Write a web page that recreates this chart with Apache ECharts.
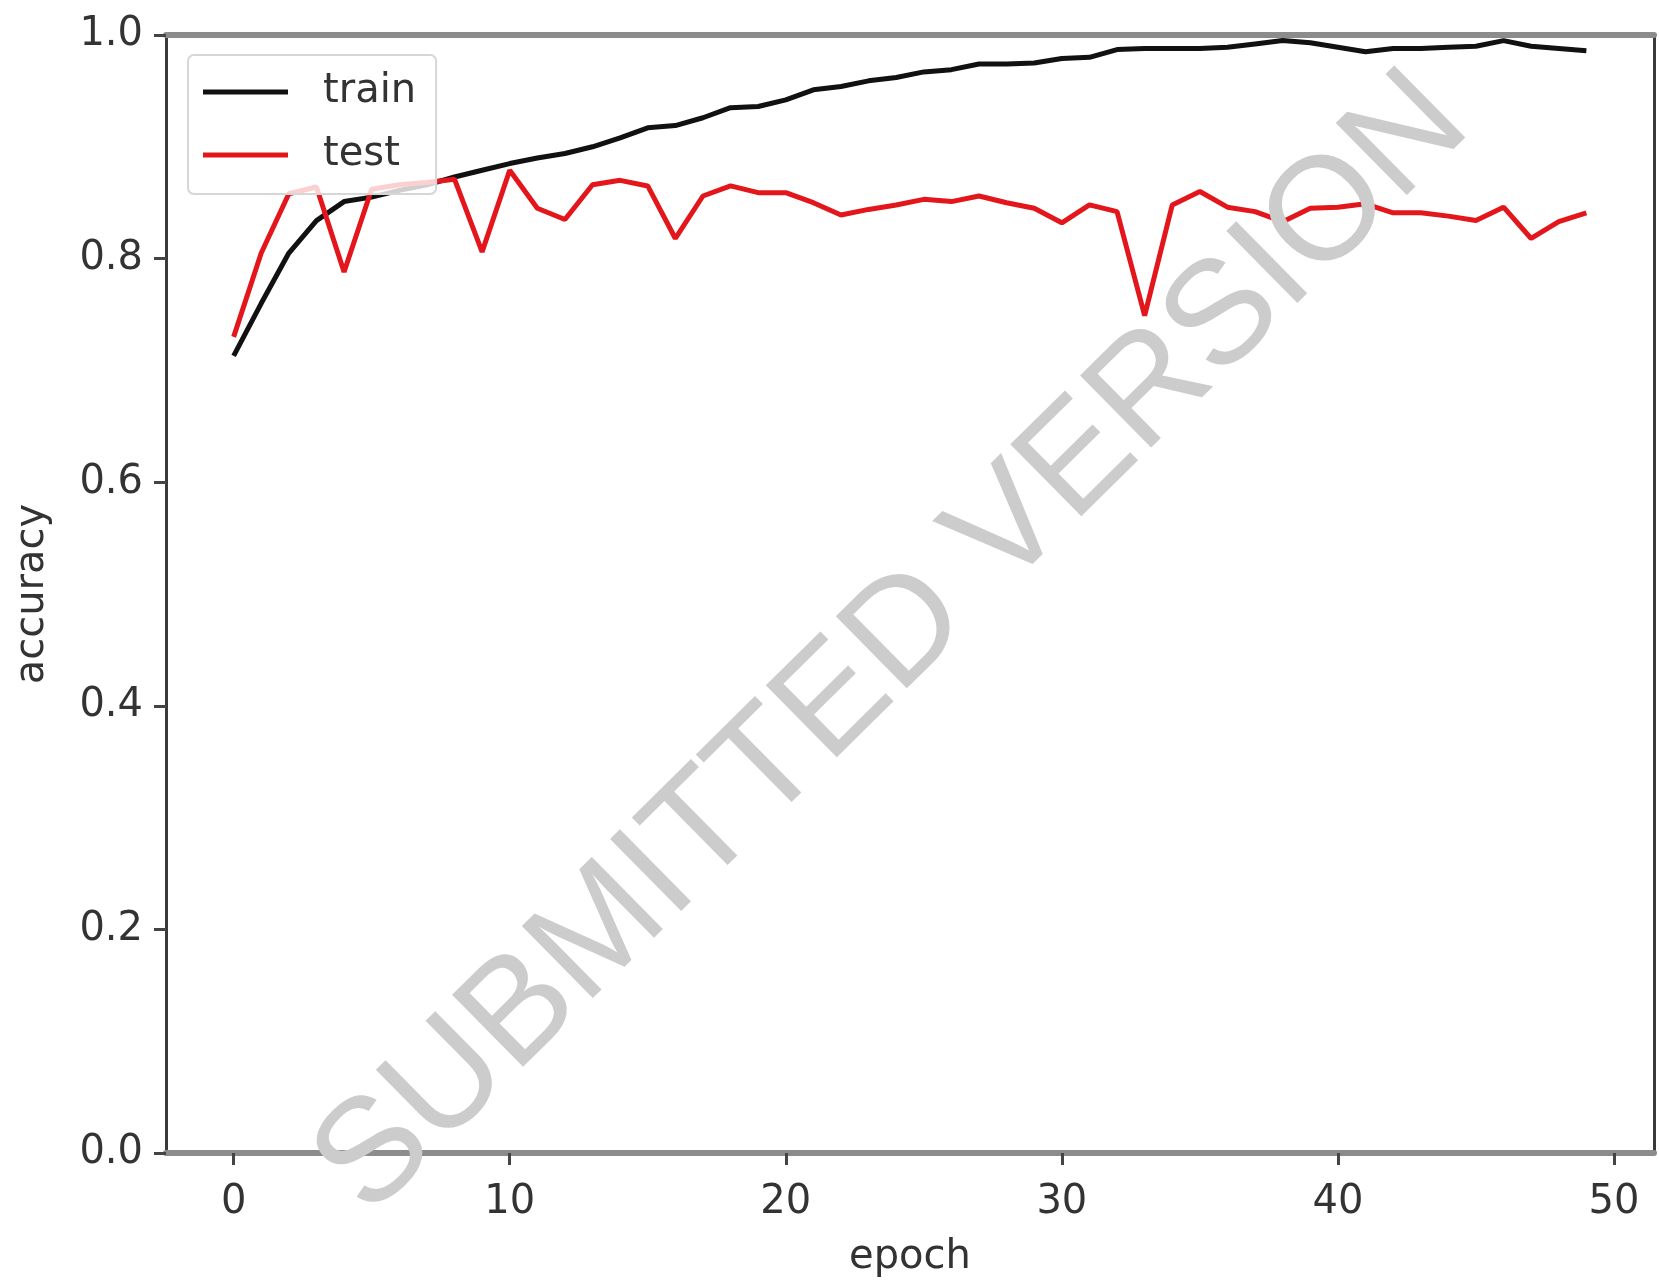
<!DOCTYPE html>
<html>
<head>
<meta charset="utf-8">
<title>accuracy</title>
<script src="https://cdn.jsdelivr.net/npm/echarts@6/dist/echarts.min.js"></script>
<style>
html,body{margin:0;padding:0;background:#fff;}
#main{width:1659px;height:1283px;}
</style>
</head>
<body>
<div id="main"></div>
<script>
// values, one per epoch (0..49)
var trainAcc = [0.713, 0.760, 0.805, 0.834, 0.851, 0.855, 0.861, 0.866, 0.873, 0.879,
                0.885, 0.890, 0.894, 0.900, 0.908, 0.917, 0.919, 0.926, 0.935, 0.936,
                0.942, 0.951, 0.954, 0.959, 0.962, 0.967, 0.969, 0.974, 0.974, 0.975,
                0.979, 0.980, 0.987, 0.988, 0.988, 0.988, 0.989, 0.992, 0.995, 0.993,
                0.989, 0.985, 0.988, 0.988, 0.989, 0.990, 0.995, 0.990, 0.988, 0.986];
var testAcc = [0.730, 0.805, 0.858, 0.864, 0.788, 0.862, 0.866, 0.868, 0.871, 0.806,
               0.879, 0.845, 0.835, 0.866, 0.870, 0.865, 0.818, 0.856, 0.865, 0.859,
               0.859, 0.850, 0.839, 0.844, 0.848, 0.853, 0.851, 0.856, 0.850, 0.845,
               0.832, 0.848, 0.842, 0.749, 0.848, 0.860, 0.846, 0.842, 0.833, 0.845,
               0.846, 0.849, 0.841, 0.841, 0.838, 0.834, 0.846, 0.818, 0.833, 0.841];
var xTicks = [0, 10, 20, 30, 40, 50];
var seriesNames = ['train', 'test'];

var font = 'DejaVu Sans';

function toPoints(arr){
    var out = [];
    for (var i = 0; i < arr.length; i++) {
        out.push([i, arr[i]]);
    }
    return out;
}

var myChart = echarts.init(document.getElementById('main'));
var option = {
    animation: false,
    backgroundColor: '#fff',
    textStyle: { fontFamily: font },
    grid: { left: 166, right: 5, top: 35, bottom: 130 },
    legend: {
        orient: 'vertical',
        left: 188,
        top: 55,
        padding: [17, 20, 19, 15],
        itemGap: 23,
        itemWidth: 85,
        itemHeight: 5,
        icon: 'rect',
        backgroundColor: 'rgba(255,255,255,0.8)',
        borderColor: '#d6d6d6',
        borderWidth: 2,
        borderRadius: 6,
        textStyle: {
            fontFamily: font,
            fontSize: 40,
            lineHeight: 40,
            color: '#333',
            padding: [0, 0, 0, 30]
        },
        data: seriesNames
    },
    xAxis: [{
        type: 'value',
        min: -2.45,
        max: 51.45,
        name: 'epoch',
        nameLocation: 'middle',
        nameGap: 85,
        nameTextStyle: { fontFamily: font, fontSize: 40, color: '#333' },
        axisLine: { onZero: false, lineStyle: { color: '#8c8c8c', width: 6 } },
        axisTick: { customValues: xTicks, length: 12, lineStyle: { color: '#444', width: 3 } },
        axisLabel: {
            customValues: xTicks,
            margin: 30,
            fontFamily: font,
            fontSize: 40,
            color: '#333',
            formatter: function(v){ return String(v); }
        },
        splitLine: { show: false }
    }, {
        type: 'value',
        position: 'top',
        min: -2.45,
        max: 51.45,
        axisLine: { onZero: false, lineStyle: { color: '#8c8c8c', width: 6 } },
        axisTick: { show: false },
        axisLabel: { show: false },
        splitLine: { show: false }
    }],
    yAxis: [{
        type: 'value',
        min: 0,
        max: 1,
        interval: 0.2,
        name: 'accuracy',
        nameLocation: 'middle',
        nameGap: 113,
        nameTextStyle: { fontFamily: font, fontSize: 40, color: '#333' },
        axisLine: { show: true, onZero: false, lineStyle: { color: '#3a3a3a', width: 3 } },
        axisTick: { show: true, length: 12, lineStyle: { color: '#444', width: 3 } },
        axisLabel: {
            margin: 23,
            fontFamily: font,
            fontSize: 40,
            color: '#333',
            formatter: function(v){ return v.toFixed(1); }
        },
        splitLine: { show: false }
    }, {
        type: 'value',
        position: 'right',
        min: 0,
        max: 1,
        axisLine: { show: true, onZero: false, lineStyle: { color: '#3a3a3a', width: 3 } },
        axisTick: { show: false },
        axisLabel: { show: false },
        splitLine: { show: false }
    }],
    series: [{
        name: seriesNames[0],
        type: 'line',
        symbol: 'none',
        color: '#111111',
        lineStyle: { color: '#111111', width: 5 },
        data: toPoints(trainAcc)
    }, {
        name: seriesNames[1],
        type: 'line',
        symbol: 'none',
        color: '#e3161c',
        lineStyle: { color: '#e3161c', width: 5 },
        data: toPoints(testAcc)
    }],
    graphic: [{
        type: 'text',
        x: 893,
        y: 645,
        rotation: 44.6 * Math.PI / 180,
        z: 100,
        style: {
            text: 'SUBMITTED VERSION',
            fontFamily: 'Liberation Sans',
            fontSize: 147,
            fill: '#cccccc',
            align: 'center',
            verticalAlign: 'middle'
        }
    }]
};
myChart.setOption(option);
</script>
</body>
</html>
